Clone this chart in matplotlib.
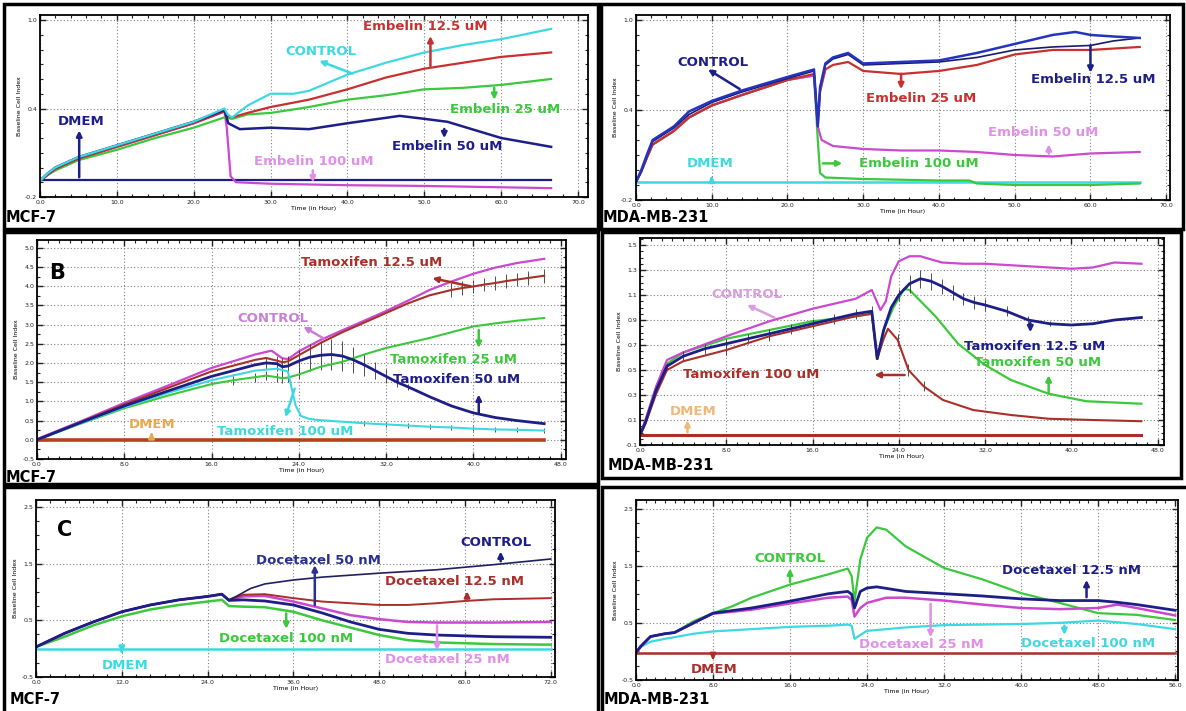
import matplotlib
matplotlib.use("Agg")
import matplotlib.pyplot as plt
from matplotlib.ticker import MultipleLocator
from matplotlib.patches import Rectangle

W, H = 1186, 711

# ---------------- panel 1 : Embelin, MCF-7 ----------------
p1_dmem_t = [0, 66.5]
p1_dmem = [-0.085, -0.085]
p1_ctrl_t = [0, 1, 2, 5, 10, 15, 20, 24, 24.4, 25, 27, 30, 33, 35, 40, 45, 50, 55, 60, 66.5]
p1_ctrl = [-0.09, -0.04, 0.0, 0.07, 0.15, 0.23, 0.31, 0.40, 0.36, 0.34, 0.42, 0.50, 0.50, 0.52, 0.63, 0.71, 0.78, 0.83, 0.87, 0.94]
p1_e125_t = [0, 1, 2, 5, 10, 15, 20, 24, 24.4, 25, 27, 30, 35, 40, 45, 50, 55, 60, 66.5]
p1_e125 = [-0.09, -0.05, -0.01, 0.06, 0.14, 0.22, 0.30, 0.38, 0.35, 0.34, 0.37, 0.41, 0.46, 0.53, 0.61, 0.67, 0.71, 0.75, 0.78]
p1_e25_t = [0, 1, 2, 5, 10, 15, 20, 24, 25, 27, 30, 35, 40, 45, 50, 55, 60, 66.5]
p1_e25 = [-0.09, -0.05, -0.02, 0.05, 0.12, 0.20, 0.27, 0.34, 0.33, 0.36, 0.37, 0.41, 0.46, 0.49, 0.53, 0.54, 0.56, 0.60]
p1_e50_t = [0, 1, 2, 5, 10, 15, 20, 24, 24.5, 26, 30, 35, 40, 46.8, 50, 53, 60, 66.5]
p1_e50 = [-0.09, -0.04, 0.0, 0.07, 0.15, 0.23, 0.31, 0.39, 0.30, 0.26, 0.27, 0.26, 0.30, 0.35, 0.33, 0.31, 0.20, 0.14]
p1_e100_t = [0, 1, 2, 5, 10, 15, 20, 24, 24.3, 24.8, 25.5, 30, 40, 50, 66.5]
p1_e100 = [-0.09, -0.05, -0.01, 0.06, 0.14, 0.22, 0.30, 0.38, 0.27, -0.06, -0.10, -0.11, -0.12, -0.125, -0.14]

# ---------------- panel 2 : Embelin, MDA-MB-231 ----------------
p2_dmem_t = [0, 66.5]
p2_dmem = [-0.08, -0.08]
p2_ctrl_t = [0, 0.7, 1.5, 2.2, 5, 7, 10, 14, 20, 23.5, 24, 24.3, 25, 26, 28, 30, 35, 40, 45, 50, 55, 58, 60, 63, 66.5]
p2_ctrl = [-0.08, 0.0, 0.11, 0.2, 0.29, 0.39, 0.46, 0.53, 0.62, 0.67, 0.29, 0.55, 0.71, 0.75, 0.78, 0.71, 0.72, 0.73, 0.78, 0.84, 0.90, 0.92, 0.90, 0.89, 0.88]
p2_e125_t = [0, 0.7, 1.5, 2.2, 5, 7, 10, 14, 20, 23.5, 24, 24.3, 25, 26, 28, 30, 35, 40, 45, 50, 55, 60, 63, 66.5]
p2_e125 = [-0.08, -0.01, 0.1, 0.19, 0.28, 0.37, 0.45, 0.52, 0.61, 0.66, 0.3, 0.55, 0.70, 0.74, 0.77, 0.70, 0.71, 0.72, 0.75, 0.80, 0.82, 0.83, 0.86, 0.88]
p2_e25_t = [0, 0.7, 1.5, 2.2, 5, 7, 10, 14, 20, 23.5, 24, 24.3, 25, 26, 28, 30, 35, 40, 45, 50, 55, 60, 66.5]
p2_e25 = [-0.08, -0.01, 0.09, 0.17, 0.26, 0.35, 0.43, 0.50, 0.60, 0.64, 0.3, 0.52, 0.67, 0.70, 0.72, 0.66, 0.64, 0.66, 0.70, 0.77, 0.80, 0.80, 0.82]
p2_e50_t = [0, 0.7, 1.5, 2.2, 5, 7, 10, 14, 20, 23.5, 24, 24.5, 26, 30, 35, 40, 45, 50, 55, 60, 66.5]
p2_e50 = [-0.08, -0.01, 0.09, 0.17, 0.26, 0.35, 0.43, 0.50, 0.60, 0.63, 0.29, 0.2, 0.16, 0.14, 0.13, 0.13, 0.12, 0.10, 0.09, 0.11, 0.12]
p2_e100_t = [0, 0.7, 1.5, 2.2, 5, 7, 10, 14, 20, 23.5, 24, 24.3, 25, 30, 40, 44, 45, 50, 60, 66.5]
p2_e100 = [-0.08, -0.01, 0.09, 0.17, 0.26, 0.35, 0.43, 0.50, 0.60, 0.63, 0.2, -0.02, -0.05, -0.06, -0.07, -0.07, -0.09, -0.1, -0.1, -0.09]

# ---------------- panel 3 : Tamoxifen, MCF-7 ----------------
p3_dmem_t = [0, 46.5]
p3_dmem = [0.0, 0.0]
p3_ctrl_t = [0, 4, 8, 12, 16, 20, 21.5, 22.5, 23, 24, 26, 28, 30, 32, 34, 36, 38, 40, 42, 44, 46.5]
p3_ctrl = [0.02, 0.48, 0.96, 1.41, 1.87, 2.22, 2.32, 2.12, 2.1, 2.3, 2.6, 2.85, 3.1, 3.35, 3.62, 3.9, 4.12, 4.32, 4.48, 4.6, 4.71]
p3_t125_t = [0, 4, 8, 12, 16, 20, 21, 22, 22.5, 23, 24, 26, 28, 30, 32, 34, 36, 38, 39, 40, 41, 42, 43, 44, 45, 46.5]
p3_t125 = [0.0, 0.46, 0.92, 1.35, 1.78, 2.08, 2.13, 2.06, 2.02, 2.04, 2.2, 2.52, 2.8, 3.05, 3.3, 3.55, 3.76, 3.9, 3.95, 3.99, 4.04, 4.08, 4.13, 4.17, 4.21, 4.27]
p3_t125_e = [0, 0, 0, 0, 0, 0, 0, 0, 0, 0, 0, 0, 0, 0, 0, 0, 0, 0.18, 0.18, 0.18, 0.18, 0.18, 0.18, 0.18, 0.18, 0.18]
p3_t25_t = [0, 4, 8, 12, 16, 18, 20, 21, 22, 22.5, 23, 24, 26, 28, 30, 32, 34, 36, 38, 40, 42, 44, 46.5]
p3_t25 = [0.0, 0.42, 0.82, 1.15, 1.45, 1.55, 1.63, 1.67, 1.63, 1.6, 1.62, 1.7, 1.9, 2.03, 2.22, 2.39, 2.52, 2.65, 2.8, 2.95, 3.03, 3.1, 3.17]
p3_t25_e = [0, 0, 0, 0, 0, 0.12, 0.12, 0.12, 0.12, 0.12, 0.12, 0.12, 0, 0, 0, 0, 0, 0, 0, 0, 0, 0, 0]
p3_t50_t = [0, 4, 8, 12, 16, 20, 21, 22, 22.5, 23, 24, 25, 26, 27, 28, 29, 30, 31, 32, 33, 34, 36, 38, 40, 42, 44, 46.5]
p3_t50 = [0.0, 0.45, 0.88, 1.27, 1.65, 1.95, 2.0, 1.98, 1.9, 1.92, 2.05, 2.15, 2.2, 2.22, 2.18, 2.08, 1.95, 1.8, 1.65, 1.5, 1.38, 1.12, 0.88, 0.70, 0.58, 0.50, 0.42]
p3_t50_e = [0, 0, 0, 0, 0, 0, 0.15, 0.2, 0.22, 0.25, 0.3, 0.35, 0.38, 0.4, 0.38, 0.33, 0.28, 0.22, 0.18, 0.12, 0.08, 0, 0, 0, 0, 0, 0]
p3_t100_t = [0, 4, 8, 12, 16, 20, 22, 23, 23.3, 23.7, 24.2, 25, 26, 28, 30, 32, 34, 36, 38, 40, 42, 44, 46.5]
p3_t100 = [0.0, 0.43, 0.85, 1.22, 1.55, 1.8, 1.85, 1.78, 1.4, 0.9, 0.62, 0.54, 0.51, 0.47, 0.43, 0.40, 0.37, 0.34, 0.32, 0.29, 0.27, 0.26, 0.24]
p3_t100_e = [0, 0, 0, 0, 0, 0, 0, 0, 0, 0, 0, 0, 0, 0, 0.06, 0.06, 0.06, 0.06, 0.06, 0.06, 0.06, 0.06, 0.06]

# ---------------- panel 4 : Tamoxifen, MDA-MB-231 ----------------
p4_dmem_t = [0, 46.5]
p4_dmem = [-0.02, -0.02]
p4_ctrl_t = [0, 0.5, 1.5, 2.5, 4, 8, 12, 16, 20, 21.5, 22.3, 22.8, 23.3, 24, 25, 26, 28, 30, 32, 34, 36, 38, 40, 42, 44, 46.5]
p4_ctrl = [-0.02, 0.1, 0.37, 0.58, 0.64, 0.77, 0.89, 0.99, 1.07, 1.14, 0.98, 1.05, 1.25, 1.37, 1.41, 1.41, 1.36, 1.35, 1.35, 1.34, 1.33, 1.32, 1.31, 1.32, 1.36, 1.35]
p4_t125_t = [0, 0.5, 1.5, 2.5, 4, 6, 8, 10, 12, 14, 16, 18, 20, 21.5, 22, 22.6, 23.3, 24, 25, 26, 27, 28, 29, 30, 31, 32, 34, 36, 38, 40, 42, 44, 46.5]
p4_t125 = [-0.02, 0.08, 0.34, 0.53, 0.61, 0.67, 0.71, 0.75, 0.79, 0.83, 0.87, 0.91, 0.95, 0.97, 0.59, 0.82, 1.0, 1.1, 1.19, 1.23, 1.21, 1.17, 1.12, 1.07, 1.04, 1.02, 0.97, 0.90, 0.87, 0.86, 0.87, 0.90, 0.92]
p4_t125_e = [0, 0, 0, 0.03, 0.04, 0.04, 0.04, 0.04, 0.04, 0.04, 0.04, 0.04, 0.04, 0.04, 0, 0, 0, 0.05, 0.07, 0.07, 0.07, 0.06, 0.06, 0.05, 0.05, 0.05, 0.04, 0.03, 0.02, 0, 0, 0, 0]
p4_t50_t = [0, 0.5, 1.5, 2.5, 4, 8, 12, 16, 20, 21.5, 22, 22.6, 23.5, 24.5, 25, 27.4, 29.5, 32, 34.4, 37.9, 41.4, 44, 46.5]
p4_t50 = [-0.02, 0.09, 0.36, 0.55, 0.64, 0.75, 0.82, 0.89, 0.93, 0.95, 0.59, 0.82, 1.0, 1.15, 1.14, 0.93, 0.71, 0.54, 0.42, 0.31, 0.25, 0.24, 0.23]
p4_t100_t = [0, 0.5, 1.5, 2.5, 4, 8, 12, 16, 20, 21.5, 22, 22.6, 23, 23.9, 24.9, 26.3, 28.1, 30.9, 34.4, 37.9, 42, 46.5]
p4_t100 = [-0.02, 0.07, 0.31, 0.50, 0.57, 0.66, 0.77, 0.85, 0.93, 0.95, 0.59, 0.75, 0.83, 0.74, 0.50, 0.37, 0.26, 0.18, 0.14, 0.11, 0.10, 0.09]
p4_t100_e = [0, 0, 0, 0, 0, 0.04, 0.04, 0, 0, 0, 0, 0, 0, 0.05, 0.05, 0.04, 0, 0, 0, 0, 0, 0]

# ---------------- panel 5 : Docetaxel, MCF-7 ----------------
p5_dmem_t = [0, 72]
p5_dmem = [0.0, 0.0]
p5_ctrl_t = [0, 4, 8, 12, 16, 20, 24, 26, 27, 28, 30, 32, 36, 40, 48, 56, 64, 72]
p5_ctrl = [0.03, 0.27, 0.47, 0.65, 0.77, 0.86, 0.92, 0.96, 0.86, 0.92, 1.06, 1.14, 1.21, 1.26, 1.33, 1.39, 1.48, 1.58]
p5_d125_t = [0, 4, 8, 12, 16, 20, 24, 26, 27, 29, 32, 36, 40, 44, 48, 52, 56, 60, 64, 72]
p5_d125 = [0.03, 0.27, 0.47, 0.65, 0.77, 0.86, 0.92, 0.96, 0.86, 0.95, 0.96, 0.89, 0.83, 0.80, 0.77, 0.77, 0.80, 0.84, 0.87, 0.89]
p5_d25_t = [0, 4, 8, 12, 16, 20, 24, 26, 27, 29, 32, 36, 40, 44, 48, 52, 56, 64, 72]
p5_d25 = [0.03, 0.27, 0.47, 0.65, 0.77, 0.86, 0.92, 0.96, 0.85, 0.92, 0.93, 0.83, 0.71, 0.59, 0.52, 0.47, 0.46, 0.46, 0.47]
p5_d50_t = [0, 4, 8, 12, 16, 20, 24, 26, 27, 29, 32, 36, 40, 44, 48, 52, 56, 64, 72]
p5_d50 = [0.03, 0.27, 0.47, 0.65, 0.77, 0.86, 0.92, 0.96, 0.85, 0.86, 0.84, 0.77, 0.63, 0.47, 0.34, 0.27, 0.24, 0.21, 0.20]
p5_d100_t = [0, 4, 8, 12, 16, 20, 24, 26, 27, 29, 32, 36, 40, 44, 48, 52, 56, 64, 72]
p5_d100 = [0.03, 0.21, 0.41, 0.57, 0.69, 0.77, 0.83, 0.86, 0.75, 0.74, 0.73, 0.65, 0.50, 0.37, 0.24, 0.15, 0.11, 0.08, 0.07]

# ---------------- panel 6 : Docetaxel, MDA-MB-231 ----------------
p6_dmem_t = [0, 56]
p6_dmem = [-0.02, -0.02]
p6_ctrl_t = [0, 0.5, 1.5, 3, 4, 6, 8, 10, 12, 16, 20, 22, 22.4, 22.7, 23.3, 24, 25, 26, 28, 32, 36, 40, 44, 48, 52, 56]
p6_ctrl = [-0.02, 0.09, 0.26, 0.31, 0.33, 0.53, 0.67, 0.79, 0.94, 1.17, 1.35, 1.45, 1.32, 0.88, 1.61, 1.99, 2.17, 2.13, 1.84, 1.46, 1.26, 1.02, 0.85, 0.67, 0.64, 0.55]
p6_d125_t = [0, 0.5, 1.5, 3, 4, 6, 8, 12, 16, 20, 22, 22.4, 22.7, 23.3, 24, 25, 28, 32, 36, 40, 44, 48, 50, 52, 56]
p6_d125 = [-0.02, 0.09, 0.26, 0.31, 0.33, 0.50, 0.67, 0.76, 0.88, 1.01, 1.05, 1.0, 0.76, 1.05, 1.11, 1.13, 1.05, 1.01, 0.97, 0.92, 0.89, 0.89, 0.86, 0.82, 0.72]
p6_d25_t = [0, 0.5, 1.5, 3, 4, 6, 8, 12, 16, 20, 22, 22.4, 22.7, 23.3, 24, 26, 28, 32, 36, 40, 44, 48, 50, 52, 56]
p6_d25 = [-0.02, 0.09, 0.26, 0.31, 0.33, 0.5, 0.66, 0.73, 0.84, 0.94, 0.96, 0.9, 0.61, 0.76, 0.85, 0.94, 0.94, 0.89, 0.82, 0.76, 0.74, 0.76, 0.82, 0.76, 0.63]
p6_d100_t = [0, 0.5, 1.5, 3, 6, 8, 12, 16, 20, 22, 22.4, 22.7, 23.5, 24, 28, 32, 36, 40, 44, 48, 52, 56]
p6_d100 = [-0.02, 0.08, 0.17, 0.22, 0.31, 0.35, 0.39, 0.43, 0.45, 0.47, 0.45, 0.22, 0.31, 0.36, 0.42, 0.46, 0.47, 0.48, 0.50, 0.54, 0.48, 0.39]

CYAN, RED, GREEN, NAVY, MAG = "#3fd8e0", "#c83030", "#3cc83c", "#1e1e88", "#cc48d0"
DRED, PINK, BLUE = "#a8302a", "#e090e8", "#2234c0"

fig = plt.figure(figsize=(W / 100, H / 100), dpi=100)


def px_axes(l, t, r, b):
    return fig.add_axes([l / W, 1 - b / H, (r - l) / W, (b - t) / H])


def style(ax, xlim, ylim, xticks, xminor, yticks, yminor):
    ax.set_xlim(*xlim)
    ax.set_ylim(*ylim)
    ax.set_xticks(xticks)
    ax.set_xticklabels(["%.1f" % v for v in xticks])
    ax.set_yticks(yticks)
    ax.set_yticklabels(["%.1f" % v for v in yticks])
    ax.xaxis.set_minor_locator(MultipleLocator(xminor))
    ax.yaxis.set_minor_locator(MultipleLocator(yminor))
    ax.grid(True, which="major", ls=(0, (1, 2)), color="#808080", lw=0.8)
    ax.tick_params(which="both", direction="in", top=True, right=True, labelsize=4.5,
                   colors="#222222", pad=2)
    ax.tick_params(which="major", length=4, width=1)
    ax.tick_params(which="minor", length=2.5, width=0.8)
    for s in ax.spines.values():
        s.set_linewidth(1.3)
    ax.set_xlabel("Time (in Hour)", fontsize=4.5, labelpad=1)
    ax.set_ylabel("Baseline Cell Index", fontsize=4.5, labelpad=2)


def note(ax, text, pos, color, start, end, fs=9.5):
    ax.text(pos[0], pos[1], text, color=color, fontsize=fs, fontweight="bold",
            ha="center", va="center", zorder=6)
    ax.annotate("", xy=end, xytext=start,
                arrowprops=dict(arrowstyle="-|>", color=color, lw=1.8, mutation_scale=8),
                zorder=6)


# panel 1
ax1 = px_axes(40, 15, 588, 197)
ax1.plot(p1_dmem_t, p1_dmem, color=NAVY, lw=1.6)
ax1.plot(p1_e100_t, p1_e100, color=MAG, lw=1.6)
ax1.plot(p1_e25_t, p1_e25, color=GREEN, lw=1.6)
ax1.plot(p1_e125_t, p1_e125, color=RED, lw=1.6)
ax1.plot(p1_e50_t, p1_e50, color=NAVY, lw=1.8)
ax1.plot(p1_ctrl_t, p1_ctrl, color=CYAN, lw=1.6)
style(ax1, (0, 71.3), (-0.2, 1.034), [0, 10, 20, 30, 40, 50, 60, 70], 2, [-0.2, 0.4, 1.0], 0.1)
note(ax1, "Embelin 12.5 uM", (50.1, 0.955), RED, (50.8, 0.67), (50.8, 0.91))
note(ax1, "CONTROL", (36.5, 0.785), CYAN, (41, 0.63), (36, 0.73))
note(ax1, "Embelin 25 uM", (60.5, 0.395), GREEN, (59.1, 0.56), (59.1, 0.44))
note(ax1, "DMEM", (5.3, 0.31), NAVY, (5.1, -0.085), (5.1, 0.27))
note(ax1, "Embelin 50 uM", (53, 0.14), NAVY, (52.6, 0.28), (52.6, 0.18))
note(ax1, "Embelin 100 uM", (35.6, 0.04), PINK, (35.5, 0.0), (35.5, -0.12))
fig.text(6 / W, 1 - 218 / H, "MCF-7", fontsize=10.5, fontweight="bold", va="center")

# panel 2
ax2 = px_axes(636, 15, 1170, 200)
ax2.plot(p2_dmem_t, p2_dmem, color=CYAN, lw=1.8)
ax2.plot(p2_e100_t, p2_e100, color=GREEN, lw=1.6)
ax2.plot(p2_e50_t, p2_e50, color=MAG, lw=1.6)
ax2.plot(p2_e25_t, p2_e25, color=RED, lw=1.6)
ax2.plot(p2_e125_t, p2_e125, color="#1a1a6a", lw=1.2)
ax2.plot(p2_ctrl_t, p2_ctrl, color=BLUE, lw=1.8)
style(ax2, (0, 70.5), (-0.2, 1.033), [0, 10, 20, 30, 40, 50, 60, 70], 2, [-0.2, 0.4, 1.0], 0.1)
note(ax2, "CONTROL", (10.1, 0.716), NAVY, (14, 0.53), (9.2, 0.68))
note(ax2, "Embelin 12.5 uM", (60.4, 0.60), NAVY, (60, 0.85), (60, 0.63))
note(ax2, "Embelin 25 uM", (37.6, 0.478), RED, (35, 0.66), (35, 0.52))
note(ax2, "Embelin 50 uM", (53.7, 0.25), PINK, (54.5, 0.09), (54.5, 0.19))
note(ax2, "DMEM", (9.8, 0.04), CYAN, (10, -0.08), (10, -0.02))
note(ax2, "Embelin 100 uM", (37.4, 0.044), GREEN, (24.3, 0.044), (27.6, 0.044))
fig.text(603 / W, 1 - 218 / H, "MDA-MB-231", fontsize=10.5, fontweight="bold", va="center")

# panel 3
ax3 = px_axes(37, 240, 566, 459)
ax3.plot(p3_dmem_t, p3_dmem, color="#b8401e", lw=2.6)
ax3.errorbar(p3_t25_t, p3_t25, yerr=p3_t25_e, color=GREEN, lw=1.5, ecolor="#333333", elinewidth=0.6)
ax3.errorbar(p3_t100_t, p3_t100, yerr=p3_t100_e, color=CYAN, lw=1.5, ecolor="#333333", elinewidth=0.6)
ax3.errorbar(p3_t125_t, p3_t125, yerr=p3_t125_e, color=DRED, lw=1.5, ecolor="#333333", elinewidth=0.6)
ax3.plot(p3_ctrl_t, p3_ctrl, color=MAG, lw=1.6)
ax3.errorbar(p3_t50_t, p3_t50, yerr=p3_t50_e, color=NAVY, lw=2.0, ecolor="#333333", elinewidth=0.6)
style(ax3, (0, 48.5), (-0.5, 5.2), [0, 8, 16, 24, 32, 40, 48], 1,
      [-0.5, 0, 0.5, 1, 1.5, 2, 2.5, 3, 3.5, 4, 4.5, 5], 0.25)
ax3.text(1.8, 4.35, "B", fontsize=15, fontweight="bold", ha="center", va="center")
note(ax3, "Tamoxifen 12.5 uM", (30.7, 4.61), DRED, (40, 3.98), (36, 4.22))
note(ax3, "CONTROL", (21.6, 3.15), "#c880d8", (26.5, 2.6), (24.2, 2.98))
note(ax3, "Tamoxifen 25 uM", (38.2, 2.10), GREEN, (40.5, 2.93), (40.5, 2.32))
note(ax3, "Tamoxifen 50 uM", (38.5, 1.57), NAVY, (40.5, 0.62), (40.5, 1.25))
note(ax3, "DMEM", (10.6, 0.41), "#e8a850", (10.5, 0.0), (10.5, 0.27))
note(ax3, "Tamoxifen 100 uM", (22.8, 0.22), CYAN, (23.7, 1.4), (22.7, 0.52))
fig.text(6 / W, 1 - 478 / H, "MCF-7", fontsize=10.5, fontweight="bold", va="center")

# panel 4
ax4 = px_axes(640, 238, 1164, 445)
ax4.plot(p4_dmem_t, p4_dmem, color=DRED, lw=2.2)
ax4.errorbar(p4_t100_t, p4_t100, yerr=p4_t100_e, color=DRED, lw=1.5, ecolor="#333333", elinewidth=0.6)
ax4.plot(p4_t50_t, p4_t50, color=GREEN, lw=1.6)
ax4.plot(p4_ctrl_t, p4_ctrl, color=MAG, lw=1.6)
ax4.errorbar(p4_t125_t, p4_t125, yerr=p4_t125_e, color=NAVY, lw=2.0, ecolor="#333333", elinewidth=0.6)
style(ax4, (0, 48.6), (-0.1, 1.556), [0, 8, 16, 24, 32, 40, 48], 1,
      [-0.1, 0.1, 0.3, 0.5, 0.7, 0.9, 1.1, 1.3, 1.5], 0.05)
note(ax4, "CONTROL", (9.95, 1.10), "#d79ee0", (12.7, 0.91), (9.7, 1.03))
note(ax4, "Tamoxifen 12.5 uM", (36.6, 0.69), NAVY, (36.2, 0.90), (36.2, 0.78))
note(ax4, "Tamoxifen 50 uM", (36.9, 0.56), GREEN, (37.9, 0.30), (37.9, 0.48))
note(ax4, "Tamoxifen 100 uM", (10.3, 0.46), DRED, (24.8, 0.46), (21.5, 0.46))
note(ax4, "DMEM", (4.9, 0.17), "#f0b878", (4.4, -0.02), (4.4, 0.12))
fig.text(608 / W, 1 - 466 / H, "MDA-MB-231", fontsize=10.5, fontweight="bold", va="center")

# panel 5
ax5 = px_axes(36, 500, 555, 677)
ax5.plot(p5_dmem_t, p5_dmem, color=CYAN, lw=1.8)
ax5.plot(p5_d100_t, p5_d100, color=GREEN, lw=1.8)
ax5.plot(p5_d25_t, p5_d25, color=MAG, lw=1.8)
ax5.plot(p5_d125_t, p5_d125, color=DRED, lw=1.4)
ax5.plot(p5_ctrl_t, p5_ctrl, color="#202060", lw=1.2)
ax5.plot(p5_d50_t, p5_d50, color=NAVY, lw=2.0)
style(ax5, (0, 72.6), (-0.5, 2.62), [0, 12, 24, 36, 48, 60, 72], 2, [-0.5, 0.5, 1.5, 2.5], 0.25)
ax5.text(4.0, 2.1, "C", fontsize=15, fontweight="bold", ha="center", va="center")
note(ax5, "CONTROL", (64.3, 1.87), NAVY, (65, 1.49), (65, 1.76))
note(ax5, "Docetaxel 50 nM", (39.5, 1.55), "#283090", (39, 0.72), (39, 1.52))
note(ax5, "Docetaxel 12.5 nM", (58.6, 1.18), DRED, (60.3, 0.84), (60.3, 1.06))
note(ax5, "Docetaxel 100 nM", (35, 0.18), GREEN, (35, 0.67), (35, 0.30))
note(ax5, "Docetaxel 25 nM", (57.5, -0.2), PINK, (56.1, 0.46), (56.1, -0.08))
note(ax5, "DMEM", (12.4, -0.29), CYAN, (12, 0.0), (12, -0.12))
fig.text(10 / W, 1 - 699 / H, "MCF-7", fontsize=10.5, fontweight="bold", va="center")

# panel 6
ax6 = px_axes(636, 500, 1178, 680)
ax6.plot(p6_dmem_t, p6_dmem, color=DRED, lw=1.8)
ax6.plot(p6_d100_t, p6_d100, color=CYAN, lw=1.6)
ax6.plot(p6_ctrl_t, p6_ctrl, color=GREEN, lw=1.6)
ax6.plot(p6_d25_t, p6_d25, color=MAG, lw=1.8)
ax6.plot(p6_d125_t, p6_d125, color=NAVY, lw=2.0)
style(ax6, (0, 56.3), (-0.5, 2.65), [0, 8, 16, 24, 32, 40, 48, 56], 1, [-0.5, 0.5, 1.5, 2.5], 0.25)
note(ax6, "CONTROL", (16.0, 1.63), GREEN, (16, 1.17), (16, 1.50))
note(ax6, "Docetaxel 12.5 nM", (45.2, 1.42), NAVY, (46.8, 0.9), (46.8, 1.3))
note(ax6, "Docetaxel 25 nM", (29.6, 0.13), PINK, (30.6, 0.88), (30.6, 0.2))
note(ax6, "Docetaxel 100 nM", (47, 0.14), CYAN, (44.5, 0.5), (44.5, 0.24))
note(ax6, "DMEM", (8.1, -0.31), DRED, (8, -0.02), (8, -0.2))
fig.text(604 / W, 1 - 700 / H, "MDA-MB-231", fontsize=10.5, fontweight="bold", va="center")

# panel borders
for l, t, r, b in [(4, 4, 598, 229), (601, 4, 1183, 229), (4, 232, 598, 484),
                   (602, 232, 1181, 478), (4, 487, 598, 713), (602, 487, 1188, 713)]:
    fig.add_artist(Rectangle((l / W, 1 - b / H), (r - l) / W, (b - t) / H,
                             transform=fig.transFigure, fill=False, lw=2.5, ec="black"))

fig.savefig("out.png", dpi=100)
